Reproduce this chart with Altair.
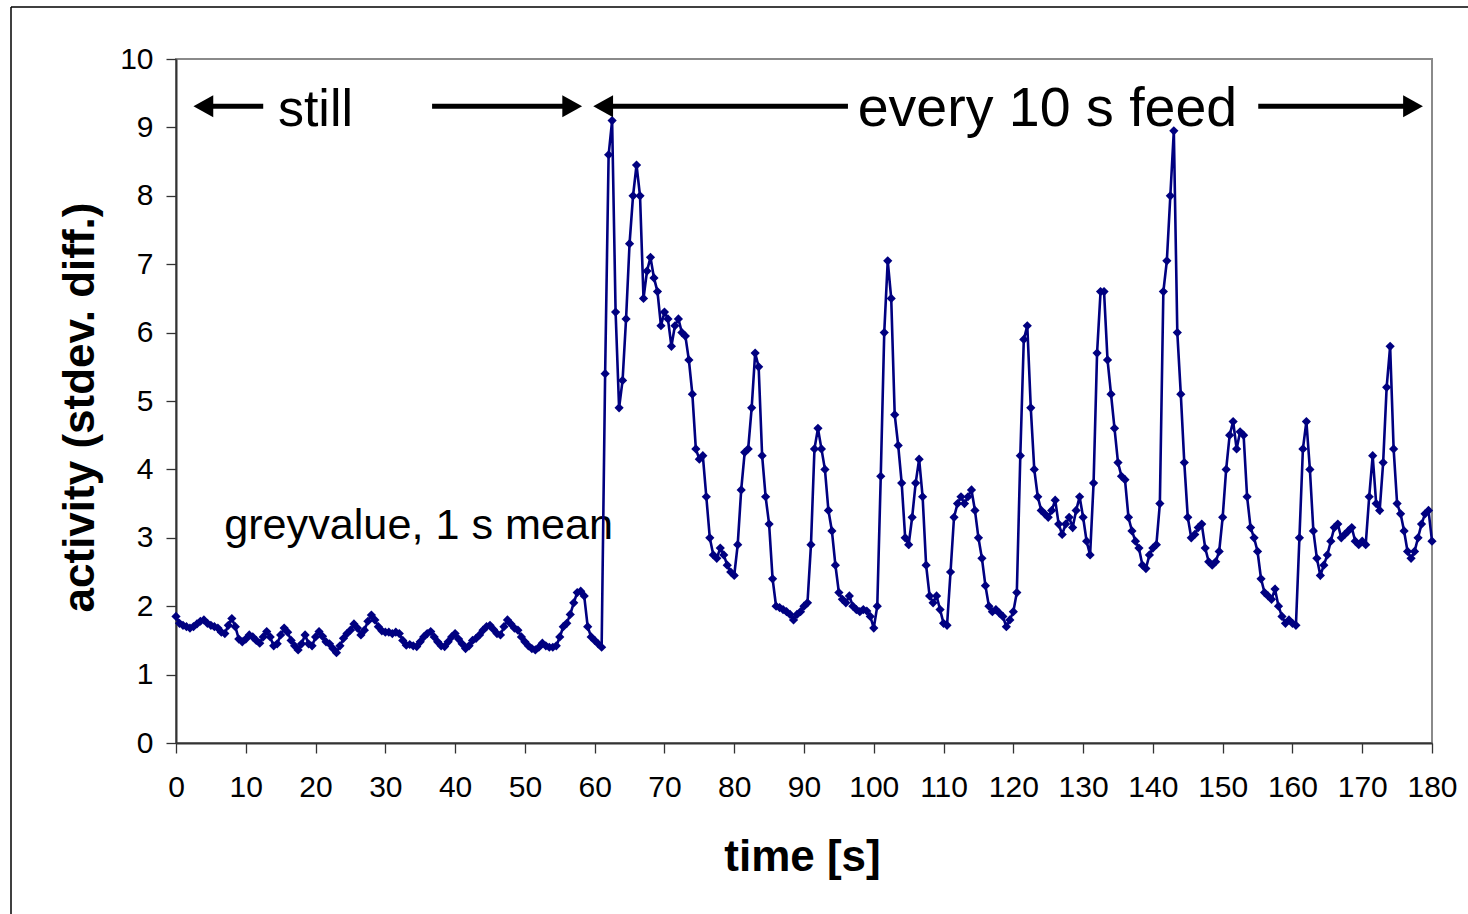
import altair as alt
import pandas as pd

activity = [
    # 0 - 9.5 s
    1.85, 1.75, 1.72, 1.70, 1.68, 1.70, 1.74, 1.78, 1.80, 1.75, 1.72, 1.70, 1.68, 1.62, 1.60, 1.72, 1.82, 1.70, 1.52, 1.48,
    # 10 - 19.5 s
    1.52, 1.58, 1.55, 1.50, 1.46, 1.55, 1.63, 1.55, 1.42, 1.45, 1.58, 1.68, 1.62, 1.50, 1.42, 1.36, 1.45, 1.58, 1.45, 1.42,
    # 20 - 29.5 s
    1.55, 1.63, 1.56, 1.48, 1.45, 1.38, 1.32, 1.42, 1.53, 1.60, 1.65, 1.74, 1.68, 1.58, 1.65, 1.78, 1.87, 1.80, 1.70, 1.64,
    # 30 - 39.5 s
    1.62, 1.62, 1.60, 1.62, 1.60, 1.50, 1.43, 1.44, 1.42, 1.41, 1.48, 1.55, 1.60, 1.63, 1.55, 1.48, 1.42, 1.41, 1.48, 1.55,
    # 40 - 49.5 s
    1.60, 1.52, 1.45, 1.38, 1.42, 1.50, 1.53, 1.58, 1.65, 1.70, 1.72, 1.66, 1.60, 1.58, 1.70, 1.80, 1.74, 1.68, 1.65, 1.55,
    # 50 - 59.5 s
    1.48, 1.42, 1.38, 1.36, 1.40, 1.46, 1.42, 1.40, 1.40, 1.42, 1.55, 1.70, 1.75, 1.88, 2.05, 2.20, 2.22, 2.15, 1.70, 1.55,
    # 60 - 69.5 s
    1.50, 1.45, 1.40, 5.40, 8.60, 9.10, 6.30, 4.90, 5.30, 6.20, 7.30, 8.00, 8.45, 8.00, 6.50, 6.90, 7.10, 6.80, 6.60, 6.10,
    # 70 - 79.5 s
    6.30, 6.20, 5.80, 6.10, 6.20, 6.00, 5.95, 5.60, 5.10, 4.30, 4.15, 4.20, 3.60, 3.00, 2.75, 2.70, 2.85, 2.75, 2.60, 2.50,
    # 80 - 89.5 s
    2.45, 2.90, 3.70, 4.25, 4.30, 4.90, 5.70, 5.50, 4.20, 3.60, 3.20, 2.40, 2.00, 1.98, 1.95, 1.92, 1.88, 1.80, 1.88, 1.92,
    # 90 - 99.5 s
    2.00, 2.05, 2.90, 4.30, 4.60, 4.30, 4.00, 3.40, 3.10, 2.60, 2.20, 2.10, 2.05, 2.15, 2.00, 1.95, 1.92, 1.95, 1.93, 1.85,
    # 100 - 109.5 s
    1.68, 2.00, 3.90, 6.00, 7.05, 6.50, 4.80, 4.35, 3.80, 3.00, 2.90, 3.30, 3.80, 4.15, 3.60, 2.60, 2.15, 2.05, 2.15, 1.95,
    # 110 - 119.5 s
    1.75, 1.72, 2.50, 3.30, 3.50, 3.60, 3.50, 3.60, 3.70, 3.40, 3.00, 2.70, 2.30, 2.00, 1.92, 1.95, 1.90, 1.85, 1.70, 1.80,
    # 120 - 129.5 s
    1.92, 2.20, 4.20, 5.90, 6.10, 4.90, 4.00, 3.60, 3.40, 3.35, 3.30, 3.40, 3.55, 3.20, 3.05, 3.20, 3.30, 3.15, 3.40, 3.60,
    # 130 - 139.5 s
    3.30, 2.95, 2.75, 3.80, 5.70, 6.60, 6.60, 5.60, 5.10, 4.60, 4.10, 3.90, 3.85, 3.30, 3.10, 2.95, 2.85, 2.60, 2.55, 2.75,
    # 140 - 149.5 s
    2.85, 2.90, 3.50, 6.60, 7.05, 8.00, 8.95, 6.00, 5.10, 4.10, 3.30, 3.00, 3.05, 3.15, 3.20, 2.85, 2.65, 2.60, 2.65, 2.80,
    # 150 - 159.5 s
    3.30, 4.00, 4.50, 4.70, 4.30, 4.55, 4.50, 3.60, 3.15, 3.00, 2.80, 2.40, 2.20, 2.15, 2.10, 2.25, 2.00, 1.85, 1.75, 1.80,
    # 160 - 169.5 s
    1.75, 1.72, 3.00, 4.30, 4.70, 4.00, 3.10, 2.70, 2.45, 2.60, 2.75, 2.95, 3.15, 3.20, 3.00, 3.05, 3.10, 3.15, 2.95, 2.90,
    # 170 - 180 s
    2.95, 2.90, 3.60, 4.20, 3.50, 3.40, 4.10, 5.20, 5.80, 4.30, 3.50, 3.35, 3.10, 2.80, 2.70, 2.80, 3.00, 3.20, 3.35, 3.40,
    2.95,
]
sample_step_s = 0.5
time_s = [round(i * sample_step_s, 1) for i in range(len(activity))]

x_ticks = list(range(0, 181, 10))
y_ticks = list(range(0, 11))

# annotation texts
label_text = ["still", "every 10 s feed", "greyvalue, 1 s mean"]
label_t = [14.6, 97.7, 6.9]
label_v = [9.02, 9.02, 2.98]
label_size = [52, 55.5, 43.2]

# annotation arrows (tail end and tip, in seconds)
arrow_tail_t = [12.5, 36.7, 96.3, 155.1]
arrow_tip_t = [2.5, 58.2, 59.8, 178.7]
arrow_dir = ["left", "right", "left", "right"]
arrow_v = 9.31

# ---------------- styling ----------------
FONT = "Liberation Sans"
NAVY = "#000080"
PLOT_W, PLOT_H = 1256, 684
PAD = {"left": 176, "top": 59, "right": 36, "bottom": 171}

df = pd.DataFrame({"t": time_s, "v": activity})

xscale = alt.Scale(domain=[0, 180], nice=False, zero=False)
yscale = alt.Scale(domain=[0, 10], nice=False)

x_axis = alt.Axis(
    values=x_ticks, title="time [s]", grid=False, format="d",
    labelFont=FONT, labelFontSize=30, labelColor="#000", labelPadding=19, labelFlush=False,
    titleFont=FONT, titleFontSize=44, titleFontWeight="bold", titleColor="#000",
    titleX=626, titleY=114, titleBaseline="middle", titleAnchor="middle",
    domainColor="#333", domainWidth=2, tickColor="#333", tickWidth=1.3, tickSize=10,
)
y_axis = alt.Axis(
    values=y_ticks, title="activity (stdev. diff.)", grid=False, format="d",
    labelFont=FONT, labelFontSize=30, labelColor="#000", labelPadding=13,
    titleFont=FONT, titleFontSize=44, titleFontWeight="bold", titleColor="#000",
    titleX=-96, titleY=348, titleBaseline="middle", titleAngle=270,
    domainColor="#333", domainWidth=2, tickColor="#333", tickWidth=1.3, tickSize=10,
)

one = pd.DataFrame({"k": [0]})

# outer frame (top and left edges visible in the reference)
frame_top = alt.Chart(one).mark_rule(color="#000", strokeWidth=1.5).encode(
    x=alt.value(11 - PAD["left"]), x2=alt.value(1500), y=alt.value(7 - PAD["top"])
)
frame_left = alt.Chart(one).mark_rule(color="#000", strokeWidth=1.5).encode(
    x=alt.value(11 - PAD["left"]), y=alt.value(7 - PAD["top"]), y2=alt.value(1000)
)

labels_df = pd.DataFrame({"text": label_text, "t": label_t, "v": label_v, "size": label_size})
labels = alt.Chart(labels_df).mark_text(
    align="left", baseline="alphabetic", font=FONT, color="#000"
).encode(
    x=alt.X("t:Q", scale=xscale, axis=x_axis),
    y=alt.Y("v:Q", scale=yscale, axis=y_axis),
    text="text:N",
    size=alt.Size("size:Q", scale=None, legend=None),
)

series = alt.Chart(df).mark_line(
    color=NAVY, strokeWidth=2.6,
    point=alt.OverlayMarkDef(shape="diamond", size=85, filled=True, color=NAVY, opacity=1),
).encode(
    x=alt.X("t:Q", scale=xscale, axis=x_axis),
    y=alt.Y("v:Q", scale=yscale, axis=y_axis),
)

head_back = 2.0  # seconds the shaft stops short of the tip
arrows_df = pd.DataFrame({
    "tail": arrow_tail_t,
    "tip": arrow_tip_t,
    "dir": arrow_dir,
    "v": [arrow_v] * len(arrow_tip_t),
})
arrows_df["shaft_end"] = [
    tip + head_back if d == "left" else tip - head_back
    for tip, d in zip(arrows_df["tip"], arrows_df["dir"])
]

shafts = alt.Chart(arrows_df).mark_rule(color="#000", strokeWidth=5).encode(
    x=alt.X("tail:Q", scale=xscale), x2="shaft_end:Q",
    y=alt.Y("v:Q", scale=yscale),
)
heads = alt.Chart(arrows_df).mark_point(filled=True, color="#000", opacity=1, size=484).encode(
    x=alt.X("tip:Q", scale=xscale),
    y=alt.Y("v:Q", scale=yscale),
    shape=alt.Shape(
        "dir:N",
        scale=alt.Scale(domain=["left", "right"],
                        range=["M0,0L1.8,-1L1.8,1Z", "M0,0L-1.8,-1L-1.8,1Z"]),
        legend=None,
    ),
)

chart = alt.layer(
    frame_top, frame_left, labels, series, shafts, heads
).properties(
    width=PLOT_W, height=PLOT_H,
    padding=PAD,
    autosize=alt.AutoSizeParams(type="none"),
    background="white",
).configure_view(
    stroke="#8a8a8a", strokeWidth=2
)

chart.save("out.html", embed_options={"renderer": "svg", "actions": False})
